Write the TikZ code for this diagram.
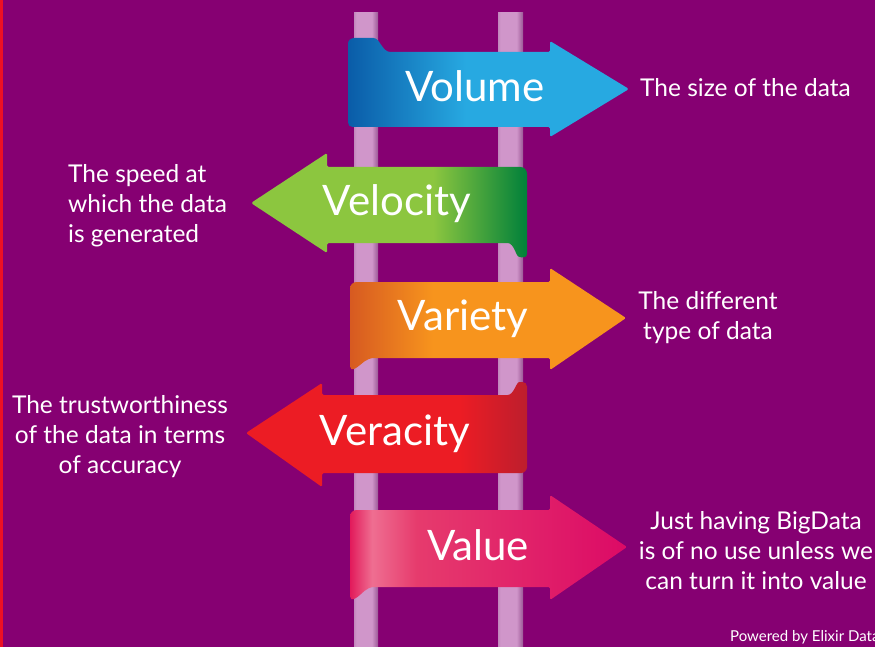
\documentclass[tikz,border=0pt]{standalone}
\usepackage{fontspec}
\setmainfont{Lato}

\definecolor{bg}{RGB}{134,0,114}
\definecolor{edge}{RGB}{236,16,36}
\definecolor{poleA}{HTML}{D096CA}
\definecolor{poleB}{HTML}{C287BD}
\definecolor{poleD}{HTML}{9B5896}
\definecolor{volA}{HTML}{0A5CA8}
\definecolor{volB}{HTML}{27A9E1}
\definecolor{velA}{HTML}{8CC63F}
\definecolor{velB}{HTML}{00803A}
\definecolor{varA}{HTML}{D75A21}
\definecolor{varB}{HTML}{F7941D}
\definecolor{veraA}{HTML}{EC1C24}
\definecolor{veraB}{HTML}{BD1E2D}
\definecolor{valA}{HTML}{E21A5B}
\definecolor{valH}{HTML}{EF6E91}
\definecolor{valM}{HTML}{E63B6D}
\definecolor{valB}{HTML}{DC0A66}

% horizontal gradients; 25bp..75bp spans the filled path's width
\pgfdeclarehorizontalshading{poleshade}{100bp}{color(0bp)=(poleB); color(25bp)=(poleB); color(30bp)=(poleA); color(62bp)=(poleA); color(75bp)=(poleD); color(100bp)=(poleD)}
\pgfdeclarehorizontalshading{volshade}{100bp}{color(0bp)=(volA); color(25bp)=(volA); color(46bp)=(volB); color(100bp)=(volB)}
\pgfdeclarehorizontalshading{velshade}{100bp}{color(0bp)=(velA); color(58bp)=(velA); color(75bp)=(velB); color(100bp)=(velB)}
\pgfdeclarehorizontalshading{varshade}{100bp}{color(0bp)=(varA); color(25bp)=(varA); color(40bp)=(varB); color(100bp)=(varB)}
\pgfdeclarehorizontalshading{verashade}{100bp}{color(0bp)=(veraA); color(63bp)=(veraA); color(75bp)=(veraB); color(100bp)=(veraB)}
\pgfdeclarehorizontalshading{valshade}{100bp}{color(0bp)=(valA); color(25bp)=(valA); color(29bp)=(valH); color(37bp)=(valM); color(75bp)=(valB); color(100bp)=(valB)}

\begin{document}
\begin{tikzpicture}[x=1pt,y=-1pt,
  bigword/.style={text=white,font=\fontsize{42}{42}\selectfont,inner sep=0pt,anchor=base},
  infotext/.style={text=white,font=\fontsize{24.5}{30}\selectfont,inner sep=0pt},
  ribbon/.style={rounded corners=1.5pt}]
\useasboundingbox (0,0) rectangle (875,647);
\fill[bg] (0,0) rectangle (875,647);
\fill[edge] (0,0) rectangle (2.5,647);

% the two poles of the ladder
\shade[shading=poleshade] (354,13) rectangle (378,647);
\shade[shading=poleshade] (498,13) rectangle (523,647);

% Volume
\shade[shading=volshade,ribbon] (348,121) -- (348,45) .. controls (348,40) and (351,38) .. (356,38) -- (372,38) .. controls (380,38) and (382,52) .. (392,52) -- (550,52) -- (550,41) -- (629,89) -- (550,137) -- (550,127) -- (354,127) .. controls (350,127) and (348,125) .. (348,121) -- cycle;
% Velocity
\shade[shading=velshade,ribbon] (251,203) -- (327,153) -- (327,167) -- (519,167) .. controls (524,167) and (527,170) .. (527,175) -- (527,252) .. controls (527,257) and (524,258) .. (520,257) .. controls (516,256) and (514,243) .. (506,243) -- (327,243) -- (327,253) -- cycle;
% Variety
\shade[shading=varshade,ribbon] (350,290) .. controls (350,285) and (353,282) .. (358,282) -- (550,282) -- (550,268) -- (626,318) -- (550,370) -- (550,358) -- (376,358) .. controls (366,358) and (362,364) .. (356,368) .. controls (352,370) and (350,369) .. (350,365) -- cycle;
% Veracity
\shade[shading=verashade,ribbon] (246,433) -- (322,383) -- (322,395) -- (506,395) .. controls (514,395) and (516,382) .. (521,382) .. controls (525,382) and (527,384) .. (527,388) -- (527,466) .. controls (527,470) and (524,473) .. (520,473) -- (322,473) -- (322,487) -- cycle;
% Value
\shade[shading=valshade,ribbon] (350,518) .. controls (350,513) and (353,510) .. (358,510) -- (550,510) -- (550,495) -- (627,547) -- (550,600) -- (550,587) -- (376,587) .. controls (366,587) and (362,594) .. (356,598) .. controls (352,600) and (350,599) .. (350,595) -- cycle;

% words on the arrows
\node[bigword] (volume)   at (475,102) {Volume};
\node[bigword] (velocity) at (397,215) {Velocity};
\node[bigword] (variety)  at (463,330) {Variety};
\node[bigword] (veracity) at (395,445) {Veracity};
\node[bigword] (value)    at (478,560) {Value};

% explanations
\node[infotext,anchor=base west] (volumetext) at (640,97) {The size of the data};
\node[infotext,anchor=west,align=left] (velocitytext) at (68,206) {The speed at\\which the data\\is generated};
\node[infotext,align=center] (varietytext) at (708,318) {The different\\type of data};
\node[infotext,align=center] (veracitytext) at (120,437) {The trustworthiness\\of the data in terms\\of accuracy};
\node[infotext,align=center] (valuetext) at (756,551) {Just having BigData\\is of no use unless we\\can turn it into value};

\node[anchor=base west,text=white,font=\fontsize{15}{16}\selectfont,inner sep=0pt] (powered) at (730,641) {Powered by Elixir Data};
\end{tikzpicture}
\end{document}
